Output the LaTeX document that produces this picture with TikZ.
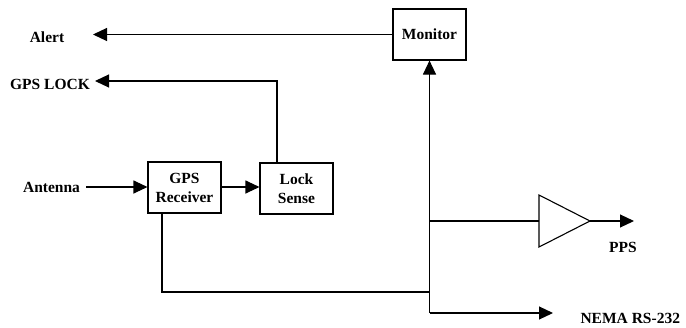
\documentclass[tikz,border=0pt]{standalone}
\usepackage{fontspec}
\setmainfont{Liberation Serif}
\usetikzlibrary{arrows.meta}
\begin{document}
\begin{tikzpicture}[x=1pt,y=-1pt,line width=1.1pt,
  txt/.style={font=\fontsize{15.5}{19}\selectfont\bfseries},
  box/.style={draw,txt,minimum width=73pt,minimum height=51pt,align=center,inner sep=0pt},
  lbl/.style={txt,inner sep=0pt},
  arr/.style={-{Triangle[length=14pt,width=13pt]}}]
\useasboundingbox (0,0) rectangle (686,327);
% blocks
\node[box] (mon) at (429.5,34.5) {Monitor};
\node[box] (gps) at (184.5,187.5) {GPS\\Receiver};
\node[box] (lock) at (296.5,188.5) {Lock\\Sense};
% amplifier
\coordinate (ampin) at (539,221);
\coordinate (ampout) at (590,221);
\draw (539,195) -- (ampout) -- (539,247) -- cycle;
% labels
\node[lbl] (alert) at (47,37) {Alert};
\node[lbl] (gpslock) at (50,84) {GPS LOCK};
\node[lbl] (ant) at (51.5,187) {Antenna};
\node[lbl] (pps) at (623,247) {PPS};
\node[lbl,anchor=west] (nema) at (580,318) {NEMA RS-232};
% junctions
\coordinate (alertend) at (93,34.5);
\coordinate (lockend) at (95,81);
\coordinate (locktop) at (277,163);
\coordinate (antstart) at (86,187);
\coordinate (gpsbot) at (162,213);
\coordinate (bus) at (429.5,292);
\coordinate (busbot) at (429.5,313);
\coordinate (busamp) at (429.5,221);
\coordinate (ppsend) at (634,221);
\coordinate (nemaend) at (553,313);
% connectors
\draw[arr] (mon.west) -- (alertend);
\draw[arr] (locktop) |- (lockend);
\draw[arr] (antstart) -- (antstart -| gps.west);
\draw[arr] (gps.east |- 0,187) -- (lock.west |- 0,187);
\draw (gpsbot) |- (bus);
\draw[arr] (busbot) -- (mon.south);
\draw (busamp) -- (ampin);
\draw[arr] (ampout) -- (ppsend);
\draw[arr] (busbot) -- (nemaend);
\end{tikzpicture}
\end{document}
